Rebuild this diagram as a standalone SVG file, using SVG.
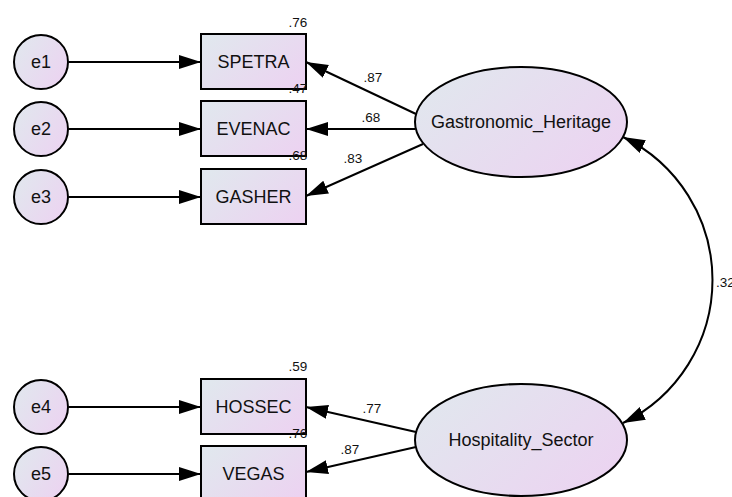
<svg xmlns="http://www.w3.org/2000/svg" width="732" height="497" viewBox="0 0 732 497">
  <style>
    .shape { fill: url(#fillGrad); stroke: #000; stroke-width: 2; }
    .lbl { font-family: "Liberation Sans", Arial, sans-serif; font-size: 18px; fill: #111; text-anchor: middle; }
    .num { font-family: "Liberation Sans", Arial, sans-serif; font-size: 13.5px; fill: #111; text-anchor: middle; }
    .edge { fill: none; stroke: #000; stroke-width: 2; marker-end: url(#arrow); }
  </style>
  <defs>
    <linearGradient id="fillGrad" x1="0" y1="0.2" x2="1" y2="0.8">
      <stop offset="0" stop-color="#e1e7ee"/>
      <stop offset="1" stop-color="#ecd3f1"/>
    </linearGradient>
    <marker id="arrow" markerUnits="userSpaceOnUse" markerWidth="23" markerHeight="15" refX="22" refY="7" orient="auto-start-reverse">
      <path d="M0,0 L22,7 L0,14 z" fill="#000"/>
    </marker>
  </defs>

  <!-- connectors -->
  <g id="connectors">
    <line class="edge" x1="68.5" y1="62" x2="201" y2="62"/>
    <line class="edge" x1="68.5" y1="129" x2="201" y2="129"/>
    <line class="edge" x1="68.5" y1="197" x2="201" y2="197"/>
    <line class="edge" x1="68.5" y1="407" x2="201" y2="407"/>
    <line class="edge" x1="68.5" y1="474" x2="201" y2="474"/>
    <line class="edge" x1="416" y1="114" x2="306" y2="62"/>
    <line class="edge" x1="415.5" y1="129" x2="306" y2="129"/>
    <line class="edge" x1="423" y1="144" x2="306" y2="196"/>
    <line class="edge" x1="416" y1="432" x2="306" y2="407"/>
    <line class="edge" x1="416" y1="447" x2="306" y2="472"/>
    <path class="edge" style="marker-start:url(#arrow)" d="M623,137 A159,159 0 0 1 623,423"/>
    <text class="num" x="373" y="82">.87</text>
    <text class="num" x="371" y="122">.68</text>
    <text class="num" x="353" y="163">.83</text>
    <text class="num" x="372" y="413">.77</text>
    <text class="num" x="350" y="454">.87</text>
    <text class="num" x="716" y="287" style="text-anchor:start">.32</text>
  </g>

  <!-- error terms -->
  <g id="e1"><circle class="shape" cx="41" cy="62" r="27"/><text class="lbl" x="41" y="68">e1</text></g>
  <g id="e2"><circle class="shape" cx="41" cy="129" r="27"/><text class="lbl" x="41" y="135">e2</text></g>
  <g id="e3"><circle class="shape" cx="41" cy="197" r="27"/><text class="lbl" x="41" y="203">e3</text></g>
  <g id="e4"><circle class="shape" cx="41" cy="407" r="27"/><text class="lbl" x="41" y="413">e4</text></g>
  <g id="e5"><circle class="shape" cx="41" cy="474" r="27"/><text class="lbl" x="41" y="480">e5</text></g>

  <!-- observed indicators -->
  <g id="SPETRA"><rect class="shape" x="201" y="34" width="105" height="55"/><text class="lbl" x="253.5" y="68">SPETRA</text><text class="num" x="298" y="27">.76</text></g>
  <g id="EVENAC"><rect class="shape" x="201" y="101" width="105" height="55"/><text class="lbl" x="253.5" y="135">EVENAC</text><text class="num" x="298" y="93">.47</text></g>
  <g id="GASHER"><rect class="shape" x="201" y="169" width="105" height="55"/><text class="lbl" x="253.5" y="203">GASHER</text><text class="num" x="298" y="160">.68</text></g>
  <g id="HOSSEC"><rect class="shape" x="201" y="379" width="105" height="55"/><text class="lbl" x="253.5" y="413">HOSSEC</text><text class="num" x="298" y="371">.59</text></g>
  <g id="VEGAS"><rect class="shape" x="201" y="446" width="105" height="55"/><text class="lbl" x="253.5" y="480">VEGAS</text><text class="num" x="298" y="438">.76</text></g>

  <!-- latent factors -->
  <g id="Gastronomic_Heritage"><ellipse class="shape" cx="521" cy="122" rx="106" ry="55"/><text class="lbl" x="521" y="128">Gastronomic_Heritage</text></g>
  <g id="Hospitality_Sector"><ellipse class="shape" cx="521" cy="440" rx="106" ry="56"/><text class="lbl" x="521" y="446">Hospitality_Sector</text></g>
</svg>
